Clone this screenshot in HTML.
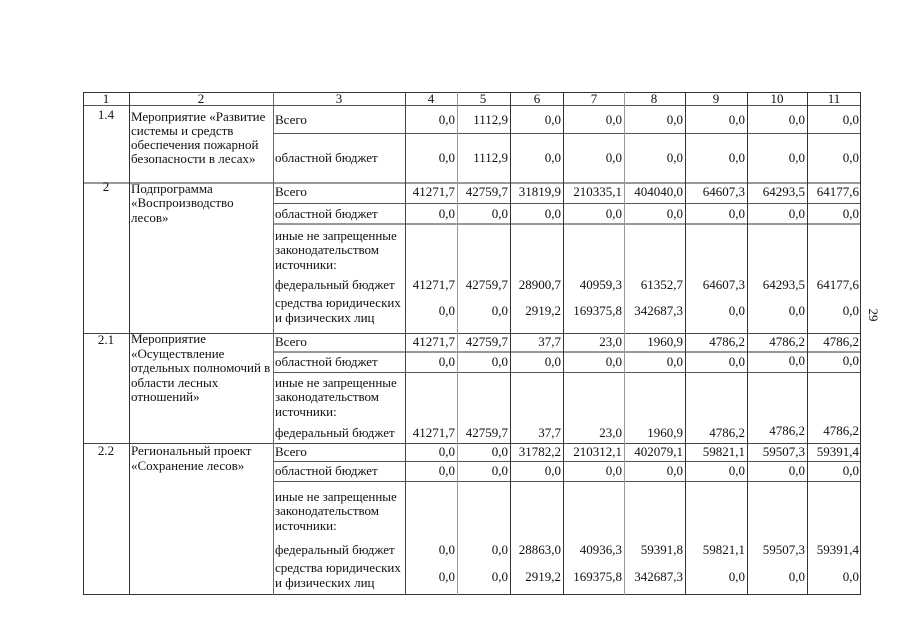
<!DOCTYPE html>
<html><head><meta charset="utf-8"><style>
html,body{margin:0;padding:0;background:#fff;}
svg{display:block;}
text{font-family:"Liberation Serif","DejaVu Serif",serif;font-size:13px;fill:#111;}
.n{text-anchor:end;}
.c{text-anchor:middle;}
</style></head><body>
<svg width="905" height="640" viewBox="0 0 905 640" xmlns="http://www.w3.org/2000/svg">
<g shape-rendering="crispEdges" fill="none">
<line x1="83" y1="92.5" x2="861" y2="92.5" stroke="#333"/>
<line x1="83" y1="105.5" x2="861" y2="105.5" stroke="#555"/>
<line x1="83" y1="183" x2="861" y2="183" stroke="#999" stroke-width="2"/>
<line x1="83" y1="333.5" x2="861" y2="333.5" stroke="#444"/>
<line x1="83" y1="443.5" x2="861" y2="443.5" stroke="#444"/>
<line x1="83" y1="594.5" x2="861" y2="594.5" stroke="#333"/>
<line x1="273" y1="133.5" x2="861" y2="133.5" stroke="#555"/>
<line x1="273" y1="203.5" x2="861" y2="203.5" stroke="#555"/>
<line x1="273" y1="224" x2="861" y2="224" stroke="#999" stroke-width="2"/>
<line x1="273" y1="352" x2="861" y2="352" stroke="#999" stroke-width="2"/>
<line x1="273" y1="372.5" x2="861" y2="372.5" stroke="#555"/>
<line x1="273" y1="461.5" x2="861" y2="461.5" stroke="#555"/>
<line x1="273" y1="481.5" x2="861" y2="481.5" stroke="#555"/>
<line x1="83.5" y1="92" x2="83.5" y2="595" stroke="#333"/>
<line x1="129.5" y1="92" x2="129.5" y2="595" stroke="#333"/>
<line x1="273.5" y1="92" x2="273.5" y2="595" stroke="#666"/>
<line x1="405.5" y1="92" x2="405.5" y2="595" stroke="#444"/>
<line x1="457.5" y1="92" x2="457.5" y2="595" stroke="#999"/>
<line x1="510.5" y1="92" x2="510.5" y2="595" stroke="#333"/>
<line x1="563.5" y1="92" x2="563.5" y2="595" stroke="#333"/>
<line x1="624.5" y1="92" x2="624.5" y2="595" stroke="#999"/>
<line x1="685.5" y1="92" x2="685.5" y2="595" stroke="#333"/>
<line x1="747.5" y1="92" x2="747.5" y2="595" stroke="#333"/>
<line x1="807.5" y1="92" x2="807.5" y2="595" stroke="#333"/>
<line x1="860.5" y1="92" x2="860.5" y2="595" stroke="#333"/>
</g>

<text class="c" x="106" y="103">1</text>
<text class="c" x="201" y="103">2</text>
<text class="c" x="339" y="103">3</text>
<text class="c" x="431" y="103">4</text>
<text class="c" x="483" y="103">5</text>
<text class="c" x="537" y="103">6</text>
<text class="c" x="594" y="103">7</text>
<text class="c" x="654" y="103">8</text>
<text class="c" x="716" y="103">9</text>
<text class="c" x="777" y="103">10</text>
<text class="c" x="834" y="103">11</text>

<text class="c" x="106" y="119">1.4</text>
<text class="c" x="106" y="191">2</text>
<text class="c" x="106" y="344">2.1</text>
<text class="c" x="106" y="455">2.2</text>

<text x="131" y="121">Мероприятие «Развитие</text>
<text x="131" y="135">системы и средств</text>
<text x="131" y="149">обеспечения пожарной</text>
<text x="131" y="163">безопасности в лесах»</text>
<text x="131" y="193">Подпрограмма</text>
<text x="131" y="207">«Воспроизводство</text>
<text x="131" y="222">лесов»</text>
<text x="131" y="343">Мероприятие</text>
<text x="131" y="358">«Осуществление</text>
<text x="131" y="372">отдельных полномочий в</text>
<text x="131" y="387">области лесных</text>
<text x="131" y="401">отношений»</text>
<text x="131" y="455">Региональный проект</text>
<text x="131" y="470">«Сохранение лесов»</text>

<text x="275" y="124">Всего</text>
<text x="275" y="162">областной бюджет</text>
<text x="275" y="196">Всего</text>
<text x="275" y="218">областной бюджет</text>
<text x="275" y="240">иные не запрещенные</text>
<text x="275" y="254">законодательством</text>
<text x="275" y="269">источники:</text>
<text x="275" y="289">федеральный бюджет</text>
<text x="275" y="307">средства юридических</text>
<text x="275" y="322">и физических лиц</text>
<text x="275" y="346">Всего</text>
<text x="275" y="366">областной бюджет</text>
<text x="275" y="387">иные не запрещенные</text>
<text x="275" y="401">законодательством</text>
<text x="275" y="416">источники:</text>
<text x="275" y="437">федеральный бюджет</text>
<text x="275" y="456">Всего</text>
<text x="275" y="475">областной бюджет</text>
<text x="275" y="501">иные не запрещенные</text>
<text x="275" y="515">законодательством</text>
<text x="275" y="530">источники:</text>
<text x="275" y="554">федеральный бюджет</text>
<text x="275" y="572">средства юридических</text>
<text x="275" y="587">и физических лиц</text>

<g>
<text class="n" x="455" y="124">0,0</text><text class="n" x="508" y="124">1112,9</text><text class="n" x="561" y="124">0,0</text><text class="n" x="622" y="124">0,0</text><text class="n" x="683" y="124">0,0</text><text class="n" x="745" y="124">0,0</text><text class="n" x="805" y="124">0,0</text><text class="n" x="859" y="124">0,0</text>
<text class="n" x="455" y="162">0,0</text><text class="n" x="508" y="162">1112,9</text><text class="n" x="561" y="162">0,0</text><text class="n" x="622" y="162">0,0</text><text class="n" x="683" y="162">0,0</text><text class="n" x="745" y="162">0,0</text><text class="n" x="805" y="162">0,0</text><text class="n" x="859" y="162">0,0</text>
<text class="n" x="455" y="196">41271,7</text><text class="n" x="508" y="196">42759,7</text><text class="n" x="561" y="196">31819,9</text><text class="n" x="622" y="196">210335,1</text><text class="n" x="683" y="196">404040,0</text><text class="n" x="745" y="196">64607,3</text><text class="n" x="805" y="196">64293,5</text><text class="n" x="859" y="196">64177,6</text>
<text class="n" x="455" y="218">0,0</text><text class="n" x="508" y="218">0,0</text><text class="n" x="561" y="218">0,0</text><text class="n" x="622" y="218">0,0</text><text class="n" x="683" y="218">0,0</text><text class="n" x="745" y="218">0,0</text><text class="n" x="805" y="218">0,0</text><text class="n" x="859" y="218">0,0</text>
<text class="n" x="455" y="289">41271,7</text><text class="n" x="508" y="289">42759,7</text><text class="n" x="561" y="289">28900,7</text><text class="n" x="622" y="289">40959,3</text><text class="n" x="683" y="289">61352,7</text><text class="n" x="745" y="289">64607,3</text><text class="n" x="805" y="289">64293,5</text><text class="n" x="859" y="289">64177,6</text>
<text class="n" x="455" y="315">0,0</text><text class="n" x="508" y="315">0,0</text><text class="n" x="561" y="315">2919,2</text><text class="n" x="622" y="315">169375,8</text><text class="n" x="683" y="315">342687,3</text><text class="n" x="745" y="315">0,0</text><text class="n" x="805" y="315">0,0</text><text class="n" x="859" y="315">0,0</text>
<text class="n" x="455" y="346">41271,7</text><text class="n" x="508" y="346">42759,7</text><text class="n" x="561" y="346">37,7</text><text class="n" x="622" y="346">23,0</text><text class="n" x="683" y="346">1960,9</text><text class="n" x="745" y="346">4786,2</text><text class="n" x="805" y="346">4786,2</text><text class="n" x="859" y="346">4786,2</text>
<text class="n" x="455" y="366">0,0</text><text class="n" x="508" y="366">0,0</text><text class="n" x="561" y="366">0,0</text><text class="n" x="622" y="366">0,0</text><text class="n" x="683" y="366">0,0</text><text class="n" x="745" y="366">0,0</text><text class="n" x="805" y="365">0,0</text><text class="n" x="859" y="365">0,0</text>
<text class="n" x="455" y="437">41271,7</text><text class="n" x="508" y="437">42759,7</text><text class="n" x="561" y="437">37,7</text><text class="n" x="622" y="437">23,0</text><text class="n" x="683" y="437">1960,9</text><text class="n" x="745" y="437">4786,2</text><text class="n" x="805" y="435">4786,2</text><text class="n" x="859" y="435">4786,2</text>
<text class="n" x="455" y="456">0,0</text><text class="n" x="508" y="456">0,0</text><text class="n" x="561" y="456">31782,2</text><text class="n" x="622" y="456">210312,1</text><text class="n" x="683" y="456">402079,1</text><text class="n" x="745" y="456">59821,1</text><text class="n" x="805" y="456">59507,3</text><text class="n" x="859" y="456">59391,4</text>
<text class="n" x="455" y="475">0,0</text><text class="n" x="508" y="475">0,0</text><text class="n" x="561" y="475">0,0</text><text class="n" x="622" y="475">0,0</text><text class="n" x="683" y="475">0,0</text><text class="n" x="745" y="475">0,0</text><text class="n" x="805" y="475">0,0</text><text class="n" x="859" y="475">0,0</text>
<text class="n" x="455" y="554">0,0</text><text class="n" x="508" y="554">0,0</text><text class="n" x="561" y="554">28863,0</text><text class="n" x="622" y="554">40936,3</text><text class="n" x="683" y="554">59391,8</text><text class="n" x="745" y="554">59821,1</text><text class="n" x="805" y="554">59507,3</text><text class="n" x="859" y="554">59391,4</text>
<text class="n" x="455" y="581">0,0</text><text class="n" x="508" y="581">0,0</text><text class="n" x="561" y="581">2919,2</text><text class="n" x="622" y="581">169375,8</text><text class="n" x="683" y="581">342687,3</text><text class="n" x="745" y="581">0,0</text><text class="n" x="805" y="581">0,0</text><text class="n" x="859" y="581">0,0</text>
</g>

<text x="865" y="319" class="c" transform="rotate(90 869 319)">29</text>
</svg>
</body></html>
